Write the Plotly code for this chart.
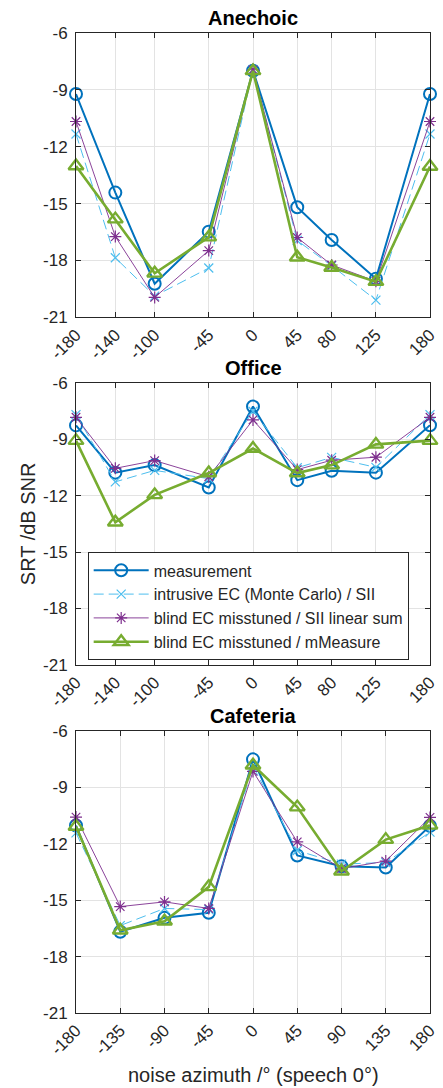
import plotly.graph_objects as go

# ---------------- data ----------------
az_anechoic = [-180, -140, -100, -45, 0, 45, 80, 125, 180]
az_office = [-180, -140, -100, -45, 0, 45, 80, 125, 180]
az_cafeteria = [-180, -135, -90, -45, 0, 45, 90, 135, 180]

# Anechoic
an_meas = [-9.22, -14.42, -19.23, -16.48, -7.99, -15.19, -16.92, -18.96, -9.22]
an_intr = [-11.33, -17.86, -19.88, -18.40, -7.94, -16.95, -18.28, -20.09, -11.33]
an_blind_sii = [-10.67, -16.74, -19.95, -17.48, -7.94, -16.79, -18.24, -19.10, -10.67]
an_blind_mm = [-13.02, -15.82, -18.68, -16.77, -8.00, -17.83, -18.37, -19.12, -13.04]

# Office
of_meas = [-8.27, -10.78, -10.38, -11.57, -7.27, -11.18, -10.68, -10.78, -8.26]
of_intr = [-7.70, -11.27, -10.66, -11.10, -7.52, -10.52, -9.97, -10.50, -7.70]
of_blind_sii = [-7.84, -10.55, -10.14, -11.00, -7.98, -10.62, -10.12, -9.96, -7.84]
of_blind_mm = [-9.08, -13.42, -11.96, -10.80, -9.50, -10.80, -10.38, -9.28, -9.08]

# Cafeteria
ca_meas = [-11.03, -16.68, -15.94, -15.67, -7.51, -12.62, -13.20, -13.26, -11.05]
ca_intr = [-11.42, -16.35, -15.44, -15.50, -7.88, -12.36, -13.08, -13.00, -11.38]
ca_blind_sii = [-10.58, -15.34, -15.09, -15.44, -8.15, -11.90, -13.32, -12.92, -10.60]
ca_blind_mm = [-11.08, -16.60, -16.12, -14.29, -7.82, -10.05, -13.46, -11.78, -11.02]

series_names = [
    "measurement",
    "intrusive EC (Monte Carlo) / SII",
    "blind EC misstuned / SII linear sum",
    "blind EC misstuned / mMeasure",
]
panel_titles = ["Anechoic", "Office", "Cafeteria"]
y_ticks = [-21, -18, -15, -12, -9, -6]

# ---------------- styling ----------------
FONT = "Liberation Sans, Arial, Helvetica, sans-serif"
TXT = "#262626"
styles = [
    dict(color="#0072BD", width=2.0, dash="solid", symbol="circle-open", size=12, mlw=2.0),
    dict(color="#4DBEEE", width=1.0, dash="10px,5px", symbol="x-thin-open", size=9, mlw=1.2),
    dict(color="#7E2F8E", width=0.9, dash="solid", symbol="asterisk-open", size=10, mlw=1.2),
    dict(color="#77AC30", width=2.6, dash="solid", symbol="triangle-up-open", size=13, mlw=2.4),
]

panels = [
    (az_anechoic, [an_meas, an_intr, an_blind_sii, an_blind_mm]),
    (az_office, [of_meas, of_intr, of_blind_sii, of_blind_mm]),
    (az_cafeteria, [ca_meas, ca_intr, ca_blind_sii, ca_blind_mm]),
]

domains = [[0.7099, 1.0], [0.3551, 0.6432], [0.0, 0.2878]]

fig = go.Figure()

for p, (az, ser) in enumerate(panels):
    sfx = "" if p == 0 else str(p + 1)
    for s, vals in enumerate(ser):
        st = styles[s]
        fig.add_trace(go.Scatter(
            x=az, y=vals, mode="lines+markers",
            name=series_names[s],
            legendgroup=series_names[s],
            showlegend=(p == 1),
            line=dict(color=st["color"], width=st["width"], dash=st["dash"]),
            marker=dict(symbol=st["symbol"], size=st["size"], color=st["color"],
                        line=dict(color=st["color"], width=st["mlw"])),
            cliponaxis=False,
            xaxis="x" + sfx, yaxis="y" + sfx,
        ))

layout = dict(
    width=443, height=1088, autosize=False,
    margin=dict(l=76, r=13, t=33, b=75, autoexpand=False),
    paper_bgcolor="white", plot_bgcolor="white",
    font=dict(family=FONT, color=TXT, size=17),
    showlegend=True,
    legend=dict(
        x=0.033, y=0.470, xanchor="left", yanchor="top",
        bgcolor="white", bordercolor=TXT, borderwidth=1,
        font=dict(family=FONT, size=16, color=TXT),
        itemwidth=55, tracegroupgap=0,
    ),
)

annotations = []
for p, (az, ser) in enumerate(panels):
    sfx = "" if p == 0 else str(p + 1)
    xa = "xaxis" + sfx
    ya = "yaxis" + sfx
    layout[xa] = dict(
        domain=[0, 1], anchor="y" + sfx, range=[-180, 180], automargin=False,
        tickmode="array", tickvals=az, ticktext=[str(v) for v in az],
        tickangle=-45, ticks="inside", ticklen=5, tickcolor=TXT,
        showline=True, linecolor=TXT, linewidth=1, mirror="ticks",
        showgrid=True, gridcolor="#e3e3e3", gridwidth=1, zeroline=False,
        tickfont=dict(size=17, color=TXT, family=FONT),
    )
    layout[ya] = dict(
        domain=domains[p], anchor="x" + sfx, range=[-21, -6], automargin=False,
        tickmode="array", tickvals=y_ticks, ticktext=[str(v) for v in y_ticks],
        ticks="inside", ticklen=5, tickcolor=TXT,
        showline=True, linecolor=TXT, linewidth=1, mirror="ticks",
        showgrid=True, gridcolor="#e3e3e3", gridwidth=1, zeroline=False,
        tickfont=dict(size=17, color=TXT, family=FONT),
        ticklabelstandoff=4,
    )
    annotations.append(dict(
        text="<b>" + panel_titles[p] + "</b>", xref="paper", yref="paper",
        x=0.5, y=domains[p][1], yanchor="bottom", xanchor="center", yshift=2,
        showarrow=False, font=dict(size=20, color="black", family=FONT),
    ))

annotations.append(dict(
    text="SRT /dB SNR", xref="paper", yref="paper",
    x=-0.135, y=0.499, xanchor="center", yanchor="middle", textangle=-90,
    showarrow=False, font=dict(size=20, color=TXT, family=FONT),
))
annotations.append(dict(
    text="noise azimuth /° (speech 0°)", xref="paper", yref="paper",
    x=0.5, y=-0.063, xanchor="center", yanchor="middle",
    showarrow=False, font=dict(size=20, color=TXT, family=FONT),
))
layout["annotations"] = annotations

fig.update_layout(**layout)
fig.write_html("out.html",
               config=dict(displayModeBar=False, responsive=False),
               post_script="document.body.style.margin='0';document.body.style.overflow='hidden';")
